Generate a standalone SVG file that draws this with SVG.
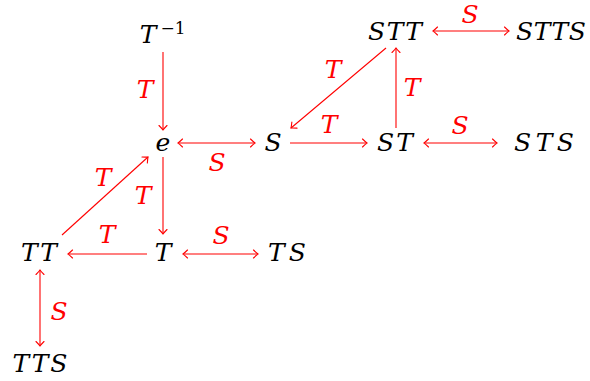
<svg xmlns="http://www.w3.org/2000/svg" width="590" height="381" viewBox="0 0 590 381">
<style>
.n{font-family:"DejaVu Serif","Liberation Serif",serif;font-style:italic;font-size:25px;fill:#000;text-anchor:middle}
.l{font-family:"DejaVu Serif","Liberation Serif",serif;font-style:italic;font-size:25px;fill:#ff0000;text-anchor:middle}
.s{font-family:"DejaVu Serif","Liberation Serif",serif;font-size:17px;fill:#000;text-anchor:middle}
.a{stroke:#ff0000;stroke-width:1.1;fill:none}
</style>
<defs>
<marker id="h" markerWidth="10" markerHeight="10" refX="0" refY="0" viewBox="-6 -5 8 10" orient="auto-start-reverse" markerUnits="userSpaceOnUse">
<path d="M-4.5,-4 Q-1.2,-0.8 0,0 Q-1.2,0.8 -4.5,4" stroke="#ff0000" stroke-width="1.1" fill="none" stroke-linecap="round"/>
</marker>
</defs>
<rect width="590" height="381" fill="#fff"/>
<g id="connectors">
<line class="a" x1="163" y1="52" x2="163" y2="130" marker-end="url(#h)"/>
<text class="l" x="145" y="98">T</text>
<line class="a" x1="178" y1="143" x2="255" y2="143" marker-start="url(#h)" marker-end="url(#h)"/>
<text class="l" x="217" y="171">S</text>
<line class="a" x1="290" y1="143" x2="367" y2="143" marker-end="url(#h)"/>
<text class="l" x="329" y="133">T</text>
<line class="a" x1="386" y1="48" x2="291" y2="128" marker-end="url(#h)"/>
<text class="l" x="333" y="78">T</text>
<line class="a" x1="396" y1="128" x2="396" y2="48" marker-end="url(#h)"/>
<text class="l" x="412" y="96">T</text>
<line class="a" x1="424" y1="143" x2="497" y2="143" marker-start="url(#h)" marker-end="url(#h)"/>
<text class="l" x="460" y="134">S</text>
<line class="a" x1="433" y1="31" x2="509" y2="31" marker-start="url(#h)" marker-end="url(#h)"/>
<text class="l" x="470" y="23">S</text>
<line class="a" x1="163" y1="157" x2="163" y2="234" marker-end="url(#h)"/>
<text class="l" x="143" y="204">T</text>
<line class="a" x1="147" y1="254" x2="68" y2="254" marker-end="url(#h)"/>
<text class="l" x="107" y="243">T</text>
<line class="a" x1="62" y1="235" x2="148" y2="157" marker-end="url(#h)"/>
<text class="l" x="103" y="186">T</text>
<line class="a" x1="183" y1="254" x2="258" y2="254" marker-start="url(#h)" marker-end="url(#h)"/>
<text class="l" x="221" y="244">S</text>
<line class="a" x1="40" y1="270" x2="40" y2="346" marker-start="url(#h)" marker-end="url(#h)"/>
<text class="l" x="59" y="320">S</text>
</g>
<g id="n-Tinv"><text class="n" x="148" y="43">T</text><text class="s" x="173" y="34">−1</text></g>
<g id="n-e"><text class="n" x="163" y="151">e</text></g>
<g id="n-S"><text class="n" x="273" y="151">S</text></g>
<g id="n-ST"><text class="n" x="395" y="151" textLength="36" lengthAdjust="spacing">ST</text></g>
<g id="n-STS"><text class="n" x="544" y="151" textLength="60" lengthAdjust="spacing">STS</text></g>
<g id="n-STT"><text class="n" x="395" y="40" textLength="54" lengthAdjust="spacing">STT</text></g>
<g id="n-STTS"><text class="n" x="551" y="40" textLength="70" lengthAdjust="spacing">STTS</text></g>
<g id="n-TT"><text class="n" x="39" y="261" textLength="36" lengthAdjust="spacing">TT</text></g>
<g id="n-T"><text class="n" x="163" y="261">T</text></g>
<g id="n-TS"><text class="n" x="287" y="261" textLength="38" lengthAdjust="spacing">TS</text></g>
<g id="n-TTS"><text class="n" x="40" y="372" textLength="55" lengthAdjust="spacing">TTS</text></g>
</svg>
